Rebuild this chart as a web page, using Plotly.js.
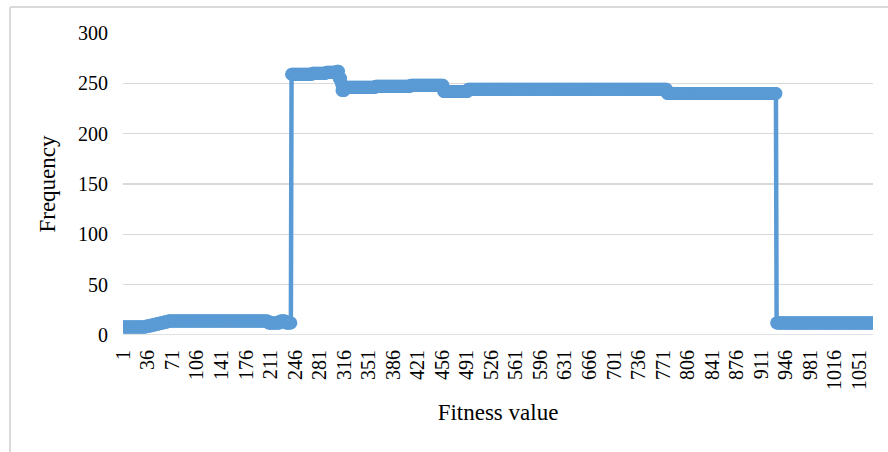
<!DOCTYPE html>
<html>
<head>
<meta charset="utf-8">
<script src="https://cdn.plot.ly/plotly-3.0.1.min.js"></script>
<style>
html,body{margin:0;padding:0;background:#fff;}
#chart{width:888px;height:452px;}
</style>
</head>
<body>
<div id="chart"></div>
<script>
// Step levels (frequency) and how many consecutive fitness values each level covers
var runValues  = [8, 9, 10, 11, 12, 13, 14, 12, 14, 12, 259, 260, 261, 262, 255, 250, 243, 246, 247, 248, 242, 244, 240, 12];
var runLengths = [33, 7, 6, 6, 6, 6, 143, 17, 8, 8, 30, 20, 15, 3, 3, 1, 4, 44, 50, 47, 35, 284, 156, 138];
var tickLabels = ["1","36","71","106","141","176","211","246","281","316","351","386","421","456","491","526","561","596","631","666","701","736","771","806","841","876","911","946","981","1016","1051"];
var yTicks = [0, 50, 100, 150, 200, 250, 300];

var xs = [], ys = [];
var cat = 1;
for (var i = 0; i < runValues.length; i++) {
  for (var k = 0; k < runLengths[i]; k++) {
    xs.push(cat);
    ys.push(runValues[i]);
    cat++;
  }
}
var nCats = xs.length;
var tickVals = tickLabels.map(function(s){ return Number(s); });

var L = 123, R = 15, T = 33, B = 117;
var W = 888 - L - R, H = 452 - T - B;
function px2x(p){ return (p - L) / W; }
function py2y(p){ return (452 - B - p) / H; }

var trace = {
  x: xs, y: ys, type: 'scatter', mode: 'lines+markers',
  line: {color: '#5b9bd5', width: 4.5},
  marker: {color: '#5b9bd5', size: 13, symbol: 'circle', line: {width: 0}},
  hoverinfo: 'x+y', showlegend: false
};

var font = 'Liberation Serif, Times New Roman, serif';
var layout = {
  width: 888, height: 452,
  margin: {l: L, r: R, t: T, b: B, pad: 0},
  paper_bgcolor: '#ffffff', plot_bgcolor: '#ffffff',
  font: {family: font, color: '#000000', size: 20},
  xaxis: {
    range: [0.5, nCats + 0.5], automargin: true,
    tickmode: 'array', tickvals: tickVals, ticktext: tickLabels,
    tickangle: -90, showgrid: false, zeroline: false, showline: false,
    ticks: '', ticklabelstandoff: 10,
    tickfont: {family: font, size: 20, color: '#000000'},
    title: {text: 'Fitness value', font: {family: font, size: 23, color: '#000000'}, standoff: 14}
  },
  yaxis: {
    range: [0, 300], automargin: true,
    tickmode: 'array', tickvals: yTicks, ticktext: yTicks.map(String),
    showgrid: true, gridcolor: '#d9d9d9', gridwidth: 1.5,
    zeroline: false, showline: false, ticks: '', ticklabelstandoff: 14,
    tickfont: {family: font, size: 20, color: '#000000'},
    title: {text: 'Frequency', font: {family: font, size: 23, color: '#000000'}, standoff: 15}
  },
  shapes: [
    {type: 'line', xref: 'paper', yref: 'paper', x0: px2x(10), x1: px2x(10), y0: py2y(460), y1: py2y(7),
     line: {color: '#d9d9d9', width: 2}},
    {type: 'line', xref: 'paper', yref: 'paper', x0: px2x(10), x1: px2x(900), y0: py2y(7), y1: py2y(7),
     line: {color: '#d9d9d9', width: 2}},
    {type: 'line', xref: 'paper', yref: 'y', x0: 0, x1: 1, y0: 0, y1: 0, layer: 'below',
     line: {color: '#d9d9d9', width: 1.5}}
  ]
};

Plotly.newPlot('chart', [trace], layout, {staticPlot: true, displayModeBar: false});
</script>
</body>
</html>
